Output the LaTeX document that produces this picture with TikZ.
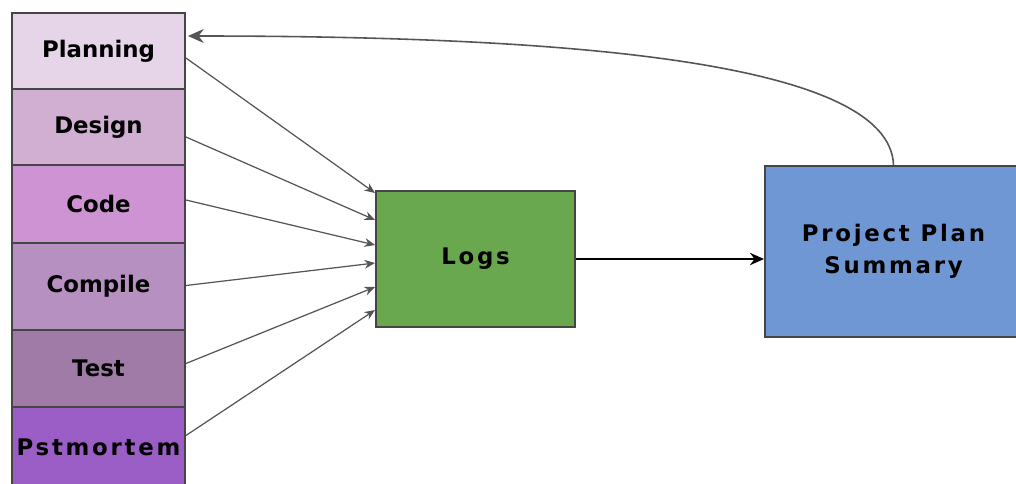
\documentclass[tikz,border=0pt]{standalone}
\usepackage{fontspec}
\setmainfont{DejaVu Sans}
\newfontfamily\largefont{DejaVu Sans}[LetterSpace=12]
\usepackage{xcolor}
\usepackage{tikz}
\usetikzlibrary{arrows.meta, calc}
\definecolor{lilas}{HTML}{E6D5E8}
\definecolor{mauve}{HTML}{D0AFD3}
\definecolor{orchidee}{HTML}{CE93D2}
\definecolor{parme}{HTML}{B690C0}
\definecolor{prune}{HTML}{A07BA7}
\definecolor{pourpre}{HTML}{9B5DC6}
\definecolor{vert}{HTML}{6AA84F}
\definecolor{bleu}{HTML}{6F97D4}
\definecolor{bord}{HTML}{454545}
\definecolor{gris}{HTML}{555555}
\tikzset{
  boite/.style={draw=bord, line width=1.1pt, inner sep=0pt,
    font=\bfseries\fontsize{13}{18}\selectfont, align=center},
  etape/.style={boite, minimum width=3.46cm},
  fleche/.style={gris, line width=0.7pt, -{Stealth[length=6pt, width=5pt]}}
}
\begin{document}
\begin{tikzpicture}[x=0.02cm, y=-0.02cm]
    \useasboundingbox (0,0) rectangle (1016,483);
    \foreach \nom/\lab/\couleur/\haut/\bas in {plan/Planning/lilas/13/89, design/Design/mauve/89/165,
        code/Code/orchidee/165/243, compile/Compile/parme/243/330, test/Test/prune/330/407,
        postmortem/{\largefont Pstmortem}/pourpre/407/488} {
      \node[etape, fill=\couleur, minimum height=(\bas-\haut)*0.02cm] (\nom) at (98.5, {(\haut+\bas)/2}) {\lab};
    }
    \node[boite, fill=vert, minimum width=3.98cm, minimum height=2.72cm] (logs) at (475.5, 259) {\largefont Logs};
    \node[boite, fill=bleu, minimum width=5.14cm, minimum height=3.42cm] (pps) at (893.5, 251.5) {\largefont Project Plan\\\largefont Summary};
    \foreach \nom/\depart/\arrivee in {plan/7/-66, design/10/-39, code/-4/-14, compile/-1/4, test/-5/28, postmortem/-12/51} {
      \draw[fleche] ($(\nom.east)+(0,\depart)$) -- ($(logs.west)+(0,\arrivee)$);
    }
    \draw[black, line width=1.5pt, -{Stealth[length=8pt, width=7pt]}] (logs.east) -- (logs.east -| pps.west);
    \draw[fleche, line width=0.9pt, -{Stealth[length=9pt, width=8pt]}] (pps.north) .. controls (890,60) and (560,36) .. ($(plan.east)+(2,-15)$);
  \end{tikzpicture}
\end{document}
